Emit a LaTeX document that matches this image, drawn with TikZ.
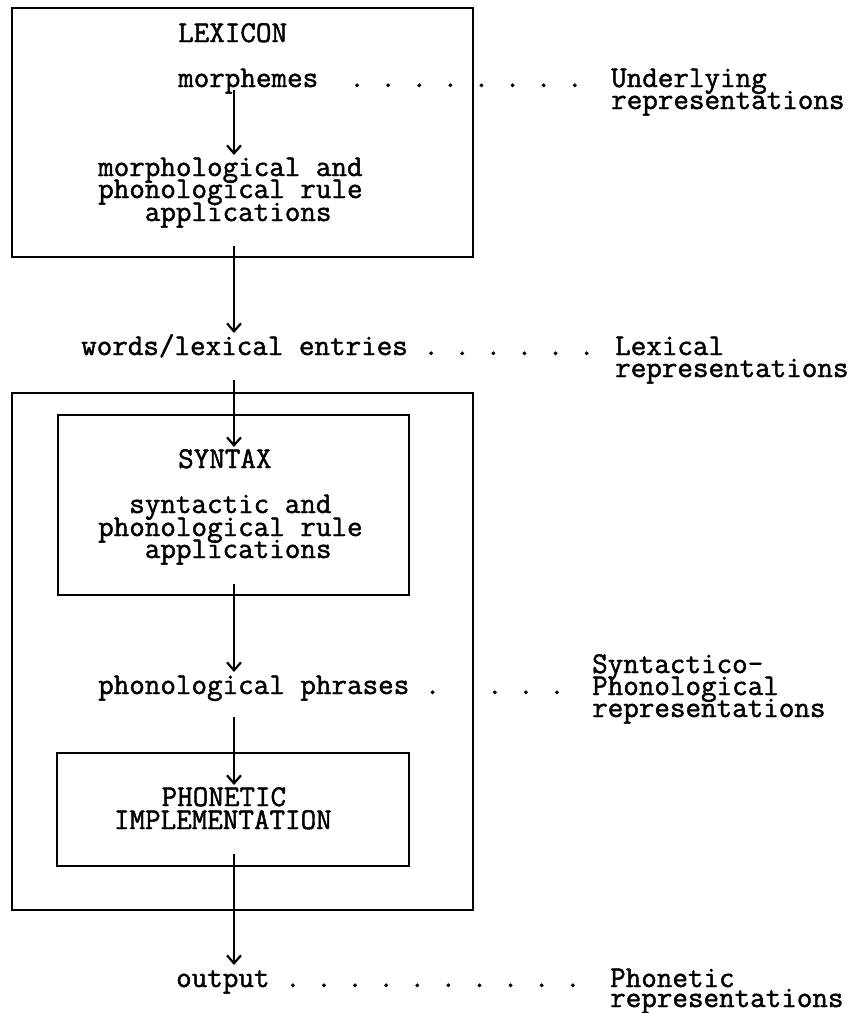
\documentclass[tikz,border=0pt]{standalone}
\usepackage{fontspec}
\newfontfamily\typewriter[FakeBold=1.5]{Latin Modern Mono}
\usetikzlibrary{arrows.meta}

\tikzset{
  txt/.style={font=\typewriter\fontsize{30.2}{22.5}\selectfont, anchor=base west, inner sep=0pt, text=black},
  frame/.style={draw=black, line width=2.8pt, inner sep=0pt},
  conn/.style={draw=black, line width=2.2pt, -{Straight Barb[length=8pt,width=14pt,line width=2.2pt]}},
}

\begin{document}
\begin{tikzpicture}[x=1pt,y=-1pt]
\useasboundingbox (0,0) rectangle (865,1013);

% vertical axis shared by all arrows
\coordinate (spine) at (234,0);

% ---------- lexicon ----------
\node[frame, minimum width=461pt, minimum height=249pt] (lexbox) at (242.5,132.5) {};
\node[txt] (lexicon) at (178,42) {LEXICON};
\node[txt] (morph) at (178,87) {morphemes~~.~.~.~.~.~.~.~.};
\node[txt] (under1) at (611,87) {Underlying};
\node[txt] (under2) at (611,109) {representations};
\node[txt] (mrule1) at (98,176) {morphological~and};
\node[txt] (mrule2) at (98,198) {phonological~rule};
\node[txt] (mrule3) at (98,221) {~~~applications};

% ---------- lexical entries ----------
\node[txt] (words) at (81,355) {words/lexical~entries~.~.~.~.~.~.};
\node[txt] (lex1) at (615,355) {Lexical};
\node[txt] (lex2) at (615,377) {representations};

% ---------- postlexical component ----------
\node[frame, minimum width=461pt, minimum height=517pt] (outer) at (242.5,651.5) {};
\node[frame, minimum width=351pt, minimum height=180pt] (synbox) at (233.5,505) {};
\node[txt] (syntax) at (178,468) {SYNTAX};
\node[txt] (srule1) at (98,513) {~~syntactic~and};
\node[txt] (srule2) at (98,536) {phonological~rule};
\node[txt] (srule3) at (98,558) {~~~applications};

\node[txt] (phr) at (98,694) {phonological~phrases~.~~~.~.~.};
\node[txt] (sp1) at (592,673) {Syntactico-};
\node[txt] (sp2) at (592,695) {Phonological};
\node[txt] (sp3) at (592,717) {representations};

\node[frame, minimum width=352pt, minimum height=113pt] (phonbox) at (233,809.5) {};
\node[txt] (phonetic) at (161.5,806) {PHONETIC};
\node[txt] (implement) at (113.8,829) {IMPLEMENTATION};

% ---------- output ----------
\node[txt] (output) at (176,987) {output~.~.~.~.~.~.~.~.~.~.};
\node[txt] (pho1) at (610,987) {Phonetic};
\node[txt] (pho2) at (610,1007) {representations};

% ---------- arrows ----------
\draw[conn] ([yshift=-3pt]morph.base -| spine) -- ([yshift=21pt]mrule1.base -| spine);
\draw[conn] ([yshift=12pt]lexbox.south -| spine) -- ([yshift=22pt]words.base -| spine);
\draw[conn] ([yshift=-25pt]words.base -| spine) -- ([yshift=21pt]syntax.base -| spine);
\draw[conn] ([yshift=12pt]synbox.south -| spine) -- ([yshift=22pt]phr.base -| spine);
\draw[conn] ([yshift=-23pt]phr.base -| spine) -- ([yshift=21pt]phonetic.base -| spine);
\draw[conn] ([yshift=13pt]phonbox.south -| spine) -- ([yshift=22pt]output.base -| spine);
\end{tikzpicture}
\end{document}
